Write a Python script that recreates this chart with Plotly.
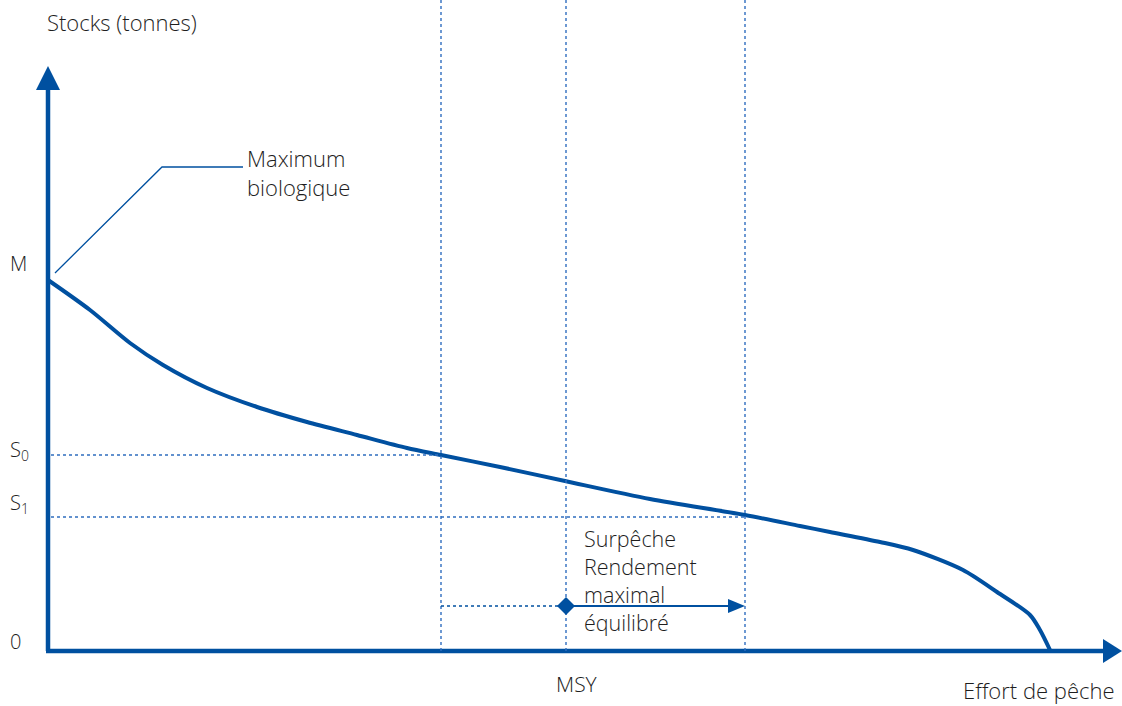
import plotly.graph_objects as go

# Schematic data (arbitrary units: effort vs stock)
effort = [0, 42, 82, 115, 159, 209, 259, 309, 359, 393, 452, 517, 602, 697,
          752, 782, 832, 865, 915, 949, 982, 992, 1002]
stock = [371, 341, 308, 286, 263, 244, 229, 216, 203, 196, 184, 170, 152, 136,
         125, 119, 109, 101, 81, 59, 36, 21, 1]

E0, E_MSY, E1 = 393, 518, 697
S0, S1, M = 196, 134, 371
arrow_level = 45

y_labels = ["M", "S<sub>0</sub>", "S<sub>1</sub>", "0"]
y_label_pos = [388, 201, 148, 10]

max_lines = ["Maximum", "biologique"]
surp_lines = ["Surpêche", "Rendement", "maximal", "équilibré"]

BLUE = "#0050A0"
DOT = "#2F6DBF"
TXT = "#1e1e1e"
FONT = "Open Sans"

fig = go.Figure()

# main curve
fig.add_trace(go.Scatter(x=effort, y=stock, mode="lines",
                         line=dict(color=BLUE, width=4, shape="spline", smoothing=0.8),
                         hoverinfo="skip", showlegend=False))

shapes = []
# axes
shapes.append(dict(type="line", x0=0, y0=0, x1=0, y1=566, line=dict(color=BLUE, width=4.5)))
shapes.append(dict(type="line", x0=-2, y0=0, x1=1058, y1=0, line=dict(color=BLUE, width=4.5)))
shapes.append(dict(type="path", path="M -12 561 L 12 561 L 0 585 Z", fillcolor=BLUE, line=dict(width=0)))
shapes.append(dict(type="path", path="M 1055 12 L 1055 -12 L 1074 0 Z", fillcolor=BLUE, line=dict(width=0)))
# vertical dotted
for e in (E0, E_MSY, E1):
    shapes.append(dict(type="line", x0=e, y0=0, x1=e, y1=651,
                       line=dict(color=DOT, width=1.4, dash="dot")))
# horizontal dotted
shapes.append(dict(type="line", x0=3, y0=S0, x1=E0, y1=S0, line=dict(color=DOT, width=1.4, dash="dot")))
shapes.append(dict(type="line", x0=3, y0=S1, x1=E1, y1=S1, line=dict(color=DOT, width=1.4, dash="dot")))
# effort arrow
shapes.append(dict(type="line", x0=E0, y0=arrow_level, x1=E_MSY, y1=arrow_level,
                   line=dict(color=BLUE, width=1.6, dash="dot")))
shapes.append(dict(type="line", x0=E_MSY, y0=arrow_level, x1=E1 - 14, y1=arrow_level,
                   line=dict(color=BLUE, width=1.8)))
shapes.append(dict(type="path",
                   path=f"M {E1-17} {arrow_level+7} L {E1-17} {arrow_level-7} L {E1} {arrow_level} Z",
                   fillcolor=BLUE, line=dict(width=0)))
shapes.append(dict(type="path",
                   path=f"M {E_MSY-9} {arrow_level} L {E_MSY} {arrow_level+9} L {E_MSY+9} {arrow_level} L {E_MSY} {arrow_level-9} Z",
                   fillcolor=BLUE, line=dict(width=0)))
# leader line
shapes.append(dict(type="path", path="M 7 378 L 114 484 L 195 484",
                   line=dict(color=BLUE, width=1.3)))

fig.update_layout(shapes=shapes)

ann = []
def txt(x, y, s, xa="left", ya="middle", size=22):
    ann.append(dict(x=x, y=y, text=s, showarrow=False, xanchor=xa, yanchor=ya,
                    align="left", font=dict(family=FONT, size=size, color=TXT, weight=300)))

txt(-3, 629, "Stocks (tonnes)")
txt(197, 479, "<br>".join(max_lines))
for lab, pos in zip(y_labels, y_label_pos):
    txt(-40, pos, lab, size=20)
txt(E_MSY + 11, -33, "MSY", xa="center", size=21)
txt(1069, -39, "Effort de pêche", xa="right")
txt(534, 71, "<br>".join(surp_lines), size=21.5)
fig.update_layout(annotations=ann)

fig.update_layout(
    width=1122, height=706,
    margin=dict(l=0, r=0, t=0, b=0),
    paper_bgcolor="white", plot_bgcolor="white",
    xaxis=dict(range=[-48, 1074], visible=False, fixedrange=True),
    yaxis=dict(range=[-55, 651], visible=False, fixedrange=True),
    showlegend=False,
)

fig.write_html("out.html", config={"displayModeBar": False},
               post_script="document.body.style.margin='0';document.body.style.padding='0';document.body.style.overflow='hidden';")
